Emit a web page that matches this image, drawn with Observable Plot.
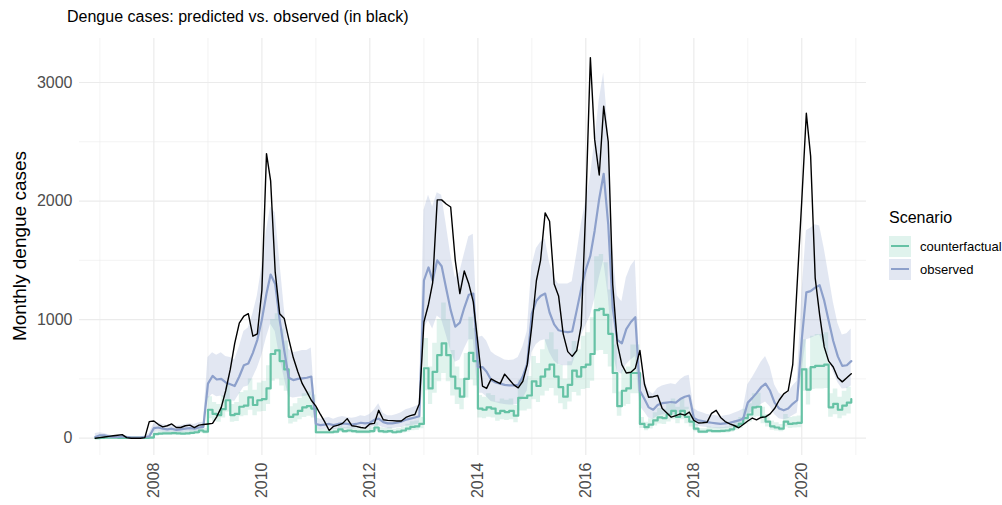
<!DOCTYPE html>
<html><head><meta charset="utf-8">
<script src="https://cdn.jsdelivr.net/npm/d3@7"></script>
<script src="https://cdn.jsdelivr.net/npm/@observablehq/plot@0.6"></script>
<style>
body{margin:0;background:#fff;font-family:"Liberation Sans",Arial,sans-serif;}
#wrap{position:relative;width:1002px;height:505px;overflow:hidden;}
#title{position:absolute;left:67px;top:8px;font-size:16px;color:#000;white-space:nowrap;}
#ylab{position:absolute;left:20px;top:246px;transform:translate(-50%,-50%) rotate(-90deg);font-size:19px;color:#000;white-space:nowrap;}
#chart{position:absolute;left:0;top:0;}
#legend{position:absolute;left:889px;top:209px;font-size:13px;color:#000;}
#legend .ttl{font-size:16px;margin-bottom:8px;}
#legend .row{display:flex;align-items:center;height:23px;}
#legend .key{width:22px;height:21px;position:relative;margin-right:9px;}
#legend .key i{position:absolute;left:2px;right:2px;top:9px;height:2.4px;}
</style></head>
<body><div id="wrap">
<div id="title">Dengue cases: predicted vs. observed (in black)</div>
<div id="ylab">Monthly dengue cases</div>
<div id="chart"></div>
<div id="legend">
 <div class="ttl">Scenario</div>
 <div class="row"><div class="key" style="background:rgba(102,194,165,0.2)"><i style="background:#66c2a5"></i></div>counterfactual</div>
 <div class="row"><div class="key" style="background:rgba(141,160,203,0.25)"><i style="background:#8da0cb"></i></div>observed</div>
</div>
</div>
<script>
// months: Dec 2006 .. Dec 2020 (169 months)
const firstMonth = [2006, 11];
const nMonths = 169;

// observed dengue cases (black)
const observedCases = [
0,5,10,15,20,25,30,5,0,0,0,5,140,
145,115,95,105,120,90,90,105,110,90,110,115,
120,125,180,260,400,580,800,970,1030,1050,860,880,
1250,2400,2170,1400,1050,1010,840,680,560,460,390,320,
270,200,140,65,100,110,125,165,105,100,90,85,
120,125,235,155,150,148,145,145,175,190,200,290,
980,1130,1310,2010,2010,1975,1950,1500,1220,1410,1300,1150,
800,440,420,500,480,460,540,495,450,425,480,620,
950,1330,1500,1900,1830,1300,1200,880,730,690,740,950,
1950,3210,2520,2220,2800,2500,1300,800,620,550,556,590,
740,455,345,350,360,250,215,177,190,205,195,220,
150,128,130,135,210,235,175,140,120,107,88,115,
145,170,155,175,180,205,250,320,374,400,620,1300,
2000,2740,2380,1350,1040,770,650,600,510,475,510,543];

// predicted, scenario "observed" (blue): median, lower, upper
const predObserved = [
10,25,25,15,10,10,15,10,5,5,5,10,15,
85,90,80,75,80,70,75,80,85,80,90,95,
460,525,495,500,470,455,440,520,615,630,720,830,
1000,1220,1380,1300,1000,740,510,490,500,505,510,520,
120,110,115,120,110,120,125,120,115,120,130,125,
130,155,165,135,125,125,130,140,155,165,175,185,
1330,1440,1330,1500,1450,1260,1080,940,975,1100,1210,1220,
600,600,560,490,470,460,450,445,445,450,520,630,
1050,1160,1200,1220,1060,960,910,900,895,900,1080,1260,
1420,1540,1750,2020,2230,1800,1100,830,800,920,980,1020,
400,330,260,240,280,295,300,305,300,330,350,360,
170,150,145,135,130,125,120,125,130,140,150,165,
300,340,380,430,460,400,300,250,235,250,290,320,
830,1230,1240,1270,1290,1160,990,820,690,610,615,650];
const predObservedLow = [
0,5,5,2,0,0,2,0,0,0,0,0,0,
55,58,52,48,52,45,48,52,55,52,58,62,
330,370,350,355,330,320,310,370,430,440,510,590,
700,850,960,900,690,510,350,340,345,350,355,360,
80,72,76,80,72,80,82,80,76,80,86,82,
85,100,105,88,80,80,85,90,100,105,112,120,
930,990,920,1030,1000,870,740,640,660,750,830,830,
380,380,350,310,300,290,285,280,280,285,330,400,
720,790,820,830,720,650,620,610,610,610,730,860,
950,1030,1170,1350,1500,1200,740,560,540,620,660,690,
270,220,170,160,185,195,200,205,200,220,235,240,
110,100,95,90,85,82,80,82,85,92,100,110,
200,225,250,285,305,265,200,165,155,165,190,210,
560,830,840,860,870,780,670,560,470,415,420,440];
const predObservedHigh = [
40,45,40,30,20,18,25,18,10,10,10,18,40,
120,128,115,108,115,100,108,115,122,115,130,135,
680,720,700,720,690,680,660,770,900,930,1050,1200,
1450,1750,1950,1900,1500,1100,750,720,730,740,740,760,
175,160,168,175,160,175,182,175,168,175,190,182,
200,240,290,210,190,190,200,215,240,250,265,280,
1920,2050,1950,2070,2050,1800,1550,1350,1400,1550,1700,1720,
850,860,820,730,700,680,660,655,660,680,770,900,
1450,1600,1650,1680,1480,1350,1300,1300,1300,1320,1550,1800,
2000,2200,2500,2850,3080,2600,1600,1200,1150,1350,1450,1500,
580,500,400,370,420,440,450,460,450,490,520,530,
250,225,215,200,195,190,180,190,195,210,225,245,
450,510,570,640,690,600,450,380,355,380,440,480,
1200,1750,1770,1800,1790,1600,1380,1150,970,870,880,920];

// predicted, scenario "counterfactual" (green): median, lower, upper
const predCounter = [
0,3,5,5,5,3,3,2,2,2,2,3,5,
35,38,40,40,42,40,38,40,45,50,65,55,
240,205,195,245,320,195,205,265,275,345,280,320,
330,420,710,740,650,580,180,200,230,260,270,250,
50,50,50,50,55,75,60,65,60,55,55,55,
60,90,60,55,60,50,55,65,80,95,100,120,
590,420,560,700,800,700,520,420,350,500,720,650,
250,240,260,250,210,230,220,230,190,340,340,360,
480,440,520,580,620,520,430,350,450,570,520,600,
620,710,1080,1090,1040,880,550,270,400,420,550,550,
120,93,115,150,175,170,200,230,180,230,180,140,
80,55,55,65,60,60,62,65,75,100,120,170,
200,260,265,180,140,100,90,80,140,120,125,130,
580,410,600,610,610,620,260,290,240,275,300,330];
const predCounterLow = [
0,0,1,1,1,0,0,0,0,0,0,0,1,
22,24,26,26,27,26,24,26,29,32,42,36,
165,140,135,170,220,135,140,180,190,235,190,220,
225,285,480,500,440,395,120,135,155,175,185,170,
33,33,33,33,36,50,40,43,40,36,36,36,
40,60,40,36,40,33,36,43,53,63,66,80,
400,285,380,475,545,475,355,285,240,340,490,440,
170,163,177,170,143,156,150,156,130,230,230,245,
325,300,355,395,420,355,290,240,305,385,355,410,
420,480,735,740,705,600,375,185,270,285,375,375,
82,63,78,102,119,115,136,156,122,156,122,95,
54,37,37,44,41,41,42,44,51,68,82,115,
136,176,180,122,95,68,61,54,95,82,85,88,
395,280,410,415,415,420,177,197,163,187,204,225];
const predCounterHigh = [
10,15,18,18,15,12,10,8,8,8,8,10,15,
55,58,60,60,62,60,58,60,68,75,95,82,
350,300,285,355,460,285,300,385,400,500,405,465,
480,610,1000,1050,920,820,265,290,335,375,390,365,
75,75,75,75,82,110,88,95,88,82,82,82,
88,130,88,82,88,75,82,95,118,138,145,175,
840,600,800,1000,1140,1000,740,600,500,715,1020,925,
360,345,375,360,305,330,320,330,275,490,490,520,
690,630,745,830,890,745,615,500,645,815,745,860,
890,1015,1530,1550,1480,1250,785,390,575,600,785,785,
175,135,165,215,250,245,285,330,260,330,260,200,
115,80,80,95,88,88,90,95,108,145,175,245,
290,375,380,260,200,145,130,115,200,175,180,188,
830,590,860,875,875,890,375,415,345,395,430,475];

// axis ticks
const majorYears = [2008,2010,2012,2014,2016,2018,2020];
const minorYears = [2007,2009,2011,2013,2015,2017,2019,2021];
const yMajor = [0,1000,2000,3000];
const yMinor = [500,1500,2500];

const months = d3.range(nMonths).map(i => new Date(Date.UTC(firstMonth[0], firstMonth[1] + i, 1)));
const rows = months.map((date, i) => ({
  date,
  obs: observedCases[i],
  bMed: predObserved[i], bLo: predObservedLow[i], bHi: predObservedHigh[i],
  gMed: predCounter[i], gLo: predCounterLow[i], gHi: predCounterHigh[i]
}));
const yr = y => new Date(Date.UTC(y, 0, 1));

const GREEN = "#66c2a5", BLUE = "#8da0cb", GRID = "#ebebeb";

const chart = Plot.plot({
  width: 1002, height: 505,
  marginLeft: 79, marginRight: 136, marginTop: 38, marginBottom: 50,
  style: {fontFamily: '"Liberation Sans", Arial, sans-serif', background: "transparent"},
  x: {type: "utc", domain: [new Date(Date.UTC(2006,7,16)), new Date(Date.UTC(2021,2,14))]},
  y: {domain: [-146, 3371]},
  marks: [
    Plot.ruleX(minorYears.map(yr), {stroke: GRID, strokeWidth: 0.6}),
    Plot.ruleY(yMinor, {stroke: GRID, strokeWidth: 0.6}),
    Plot.ruleX(majorYears.map(yr), {stroke: GRID, strokeWidth: 1.2}),
    Plot.ruleY(yMajor, {stroke: GRID, strokeWidth: 1.2}),
    Plot.areaY(rows, {x: "date", y1: "gLo", y2: "gHi", fill: GREEN, fillOpacity: 0.2, curve: "step-after"}),
    Plot.areaY(rows, {x: "date", y1: "bLo", y2: "bHi", fill: BLUE, fillOpacity: 0.25}),
    Plot.lineY(rows, {x: "date", y: "gMed", stroke: GREEN, strokeWidth: 2.2, curve: "step-after"}),
    Plot.lineY(rows, {x: "date", y: "bMed", stroke: BLUE, strokeWidth: 2.2}),
    Plot.lineY(rows, {x: "date", y: "obs", stroke: "#000", strokeWidth: 1.4}),
    Plot.axisX(majorYears.map(yr), {tickRotate: -90, tickSize: 0, tickPadding: 7, fontSize: 16, fill: "#4d4d4d",
      tickFormat: d => String(d.getUTCFullYear()), label: null}),
    Plot.axisY(yMajor, {tickSize: 0, tickPadding: 7, fontSize: 16, fill: "#4d4d4d", label: null,
      tickFormat: d => String(d)})
  ]
});
document.getElementById("chart").appendChild(chart);
</script>
</body></html>
